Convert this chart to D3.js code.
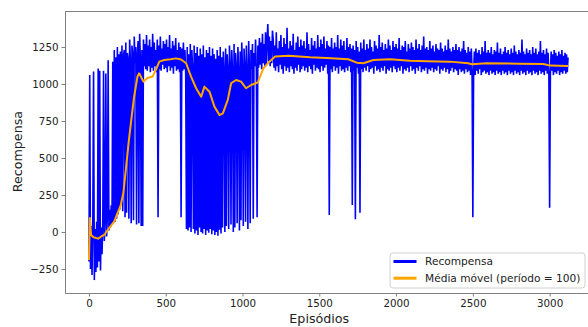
<!DOCTYPE html>
<html>
<head>
<meta charset="utf-8">
<script src="https://cdn.jsdelivr.net/npm/d3@7"></script>
<style>
  body { margin: 0; background: #fff; }
  text { font-family: "DejaVu Sans", sans-serif; fill: #222; }
</style>
</head>
<body>
<div id="chart"></div>
<script>
// recompensa, um valor a cada 5 episodios
const passo = 5;

// episodios 0 - 595
const recompensaInicio = [
  -200, 1060, -250, 40, -290, 60, 1085, -325, 20, -270, 70, -240, 1105, -200, 1090, -260, 30, -150, 50, 1090,
  -60, 90, 1070, -30, 110, 1160, 10, 150, 30, 180, 50, 1150, 60, 1230, 70, 1180, 90, 1250, 120, 1200,
  150, 1220, 190, 1260, 140, 1190, 1230, 100, 1280, 130, 1210, 1170, 90, 1300, 1150, 60, 1260, 1200, 80, 1320,
  1140, 1250, 50, 1190, 1290, 60, 1340, 1160, 40, 1230, 40, 1300, 1120, 1270, 1100, 1330, 1090, 1260, 1120, 1300,
  1080, 1250, 1110, 1340, 1090, 1280, 1120, 1230, 1080, 1300, 100, 1260, 1100, 1320, 1090, 1240, 1130, 1290, 1100, 1270,
  1110, 1300, 1080, 1250, 1120, 1330, 1090, 1240, 1110, 1290, 1070, 1260, 1120, 1310, 1090, 1230, 1100, 1280, 1080, 1250
];

// episodios 600 - 1195
const recompensaQuedas = [
  100, 1240, 1090, 1280, 1100, 1230, 1070, 20, 1250, 10, 1200, 30, 1270, 0, 1230, 1100, 20, 1260, -10, 1210,
  10, 1250, -20, 1190, 30, 1240, 0, 1200, -10, 1260, 20, 1180, -20, 1230, 10, 1210, -5, 1250, 20, 1190,
  -15, 1240, 10, 1200, -20, 1170, 0, 1230, -25, 1190, 15, 1250, -10, 1180, 30, 1220, 1090, 0, 1240, 40,
  1200, 1100, 20, 1260, 1120, 50, 1230, 1090, 0, 1270, 30, 1210, 1110, 60, 1250, 1080, 10, 1220, 80, 1280,
  1100, 40, 1240, 1120, 70, 1260, 1090, 20, 1290, 1110, 60, 1230, 1100, 1270, 90, 1210, 1120, 1300, 1090, 100,
  1260, 1110, 1310, 1130, 1280, 1100, 1340, 1140, 1270, 1120, 1350, 1130, 1300, 1405, 1150, 1320, 1120, 1290, 1140, 1360
];

// episodios 1200 - 3120
const recompensaEstavel = [
  1300, 1110, 1260, 1090, 1350, 1120, 1240, 1080, 1290, 1130, 1330, 1100, 1250, 1070, 1310, 1120, 1270, 1090, 1380, 1110,
  1240, 1080, 1290, 1120, 1260, 1100, 1340, 1070, 1230, 1110, 1280, 1090, 1320, 1130, 1250, 1080, 1300, 1100, 1260, 1120,
  1290, 1090, 1240, 1110, 1350, 1080, 1270, 1120, 1230, 1100, 1310, 1070, 1260, 1130, 1290, 1090, 1240, 1110, 1330, 1100,
  1250, 1080, 1300, 1120, 1270, 1090, 1320, 1110, 1240, 1130, 1290, 1070, 1260, 115, 1250, 1100, 1310, 1080, 1240, 1120,
  1280, 1090, 1250, 1110, 1330, 1070, 1240, 1120, 1300, 1090, 1260, 1100, 1290, 1080, 1230, 1110, 1310, 1090, 1250, 1120,
  1270, 1080, 1240, 182, 1260, 1090, 1230, 86, 1290, 1110, 1250, 1070, 1220, 130, 1280, 1100, 1240, 1080, 1300, 1110,
  1230, 1090, 1270, 1120, 1240, 1080, 1300, 1100, 1250, 1110, 1220, 1070, 1290, 1120, 1260, 1090, 1240, 1100, 1330, 1080,
  1250, 1110, 1280, 1090, 1230, 1120, 1270, 1070, 1240, 1100, 1300, 1090, 1260, 1110, 1230, 1080, 1290, 1120, 1250, 1100,
  1270, 1080, 1240, 1110, 1310, 1090, 1230, 1120, 1260, 1070, 1250, 1100, 1290, 1090, 1220, 1110, 1270, 1080, 1240, 1120,
  1280, 1090, 1250, 1100, 1230, 1070, 1300, 1110, 1240, 1090, 1270, 1120, 1230, 1080, 1260, 1100, 1320, 1090, 1240, 1110,
  1250, 1070, 1230, 1100, 1290, 1090, 1240, 1110, 1260, 1080, 1220, 1100, 1270, 1090, 1240, 1120, 1230, 1070, 1280, 1100,
  1240, 1090, 1220, 1110, 1260, 1080, 1230, 1100, 1300, 1070, 1240, 1090, 1220, 1110, 1250, 1080, 1230, 1100, 1270, 1090,
  1230, 1060, 1250, 1100, 1220, 1080, 1240, 1090, 1290, 1070, 1230, 1100, 1210, 1080, 1250, 1090, 1220, 1060, 1240, 1100,
  99, 1080, 1220, 1060, 1240, 1090, 1210, 1070, 1230, 1100, 1200, 1060, 1250, 1080, 1220, 1090, 1290, 1070, 1210, 1080,
  1230, 1060, 1210, 1090, 1250, 1070, 1200, 1080, 1230, 1060, 1220, 1090, 1280, 1070, 1210, 1080, 1240, 1060, 1200, 1090,
  1220, 1070, 1250, 1080, 1210, 1060, 1230, 1090, 1200, 1070, 1240, 1080, 1210, 1060, 1260, 1090, 1220, 1070, 1200, 1080,
  1230, 1060, 1210, 1090, 1300, 1070, 1220, 1080, 1200, 1060, 1240, 1090, 1210, 1070, 1230, 1080, 1200, 1060, 1250, 1090,
  1210, 1070, 1240, 1080, 1200, 1060, 1220, 1090, 1290, 1070, 1210, 1080, 1230, 1060, 1200, 1090, 1240, 1070, 1210, 1080,
  164, 1070, 1220, 1090, 1200, 1060, 1230, 1080, 1210, 1070, 1190, 1090, 1220, 1060, 1200, 1080, 1230, 1070, 1190, 1090,
  1210, 1070, 1200, 1080, 1180
];

// media movel (periodo = 100): pares [episodio, valor]
const mediaMovel = [
  [0, -190], [6, 95], [14, -20], [30, -35], [60, -45], [80, -30], [99, -20],
  [131, 27], [164, 70], [186, 128], [207, 182], [224, 263], [240, 419],
  [258, 601], [273, 736], [294, 914], [316, 1050], [327, 1072], [338, 1050],
  [355, 1016], [381, 1040], [414, 1050], [436, 1095], [458, 1151], [490, 1162],
  [533, 1167], [566, 1173], [600, 1165], [633, 1140], [665, 1050], [698, 971],
  [731, 914], [752, 982], [785, 948], [817, 847], [850, 790], [872, 802],
  [904, 892], [926, 1005], [958, 1027], [991, 1016], [1023, 971], [1056, 993],
  [1099, 1010], [1136, 1106], [1175, 1151], [1212, 1185], [1300, 1190],
  [1440, 1180], [1549, 1176], [1689, 1167], [1744, 1144], [1787, 1140],
  [1852, 1162], [1961, 1167], [2091, 1157], [2200, 1154], [2352, 1151],
  [2470, 1140], [2493, 1133], [2590, 1140], [2800, 1137], [2959, 1135],
  [3003, 1124], [3120, 1122]
];

const xTicks = [0, 500, 1000, 1500, 2000, 2500, 3000];
const yTicks = [-250, 0, 250, 500, 750, 1000, 1250];
const legenda = ['Recompensa', 'Média móvel (período = 100)'];
const cores = ['#0000ff', '#ffa500'];

const width = 588, height = 327;
const margin = {top: 11, right: -4, bottom: 34, left: 65};

const svg = d3.select('#chart').append('svg')
  .attr('width', width)
  .attr('height', height);

const x = d3.scaleLinear().domain([-156, 3276]).range([margin.left, width - margin.right]);
const y = d3.scaleLinear().domain([-412, 1493]).range([height - margin.bottom, margin.top]);

const serie = [
  ...recompensaInicio.map((v, i) => [i * passo, v]),
  ...recompensaQuedas.map((v, i) => [600 + i * passo, v]),
  ...recompensaEstavel.map((v, i) => [1200 + i * passo, v])
];

const line = d3.line().x(d => x(d[0])).y(d => y(d[1]));

svg.append('path')
  .datum(serie)
  .attr('fill', 'none')
  .attr('stroke', cores[0])
  .attr('stroke-width', 1.6)
  .attr('d', line);

svg.append('path')
  .datum(mediaMovel)
  .attr('fill', 'none')
  .attr('stroke', cores[1])
  .attr('stroke-width', 2)
  .attr('stroke-linejoin', 'round')
  .attr('d', line);

// eixos
const xAxis = svg.append('g')
  .attr('transform', `translate(0, ${height - margin.bottom})`)
  .call(d3.axisBottom(x).tickValues(xTicks).tickSize(3.5).tickSizeOuter(0)
    .tickPadding(3).tickFormat(d => String(d)));
const yAxis = svg.append('g')
  .attr('transform', `translate(${margin.left}, 0)`)
  .call(d3.axisLeft(y).tickValues(yTicks).tickSize(3.5).tickSizeOuter(0).tickPadding(3)
    .tickFormat(d => d < 0 ? '\u2212' + Math.abs(d) : String(d)));

[xAxis, yAxis].forEach(a => {
  a.selectAll('path').attr('stroke', '#808080').attr('stroke-width', 1);
  a.selectAll('line').attr('stroke', '#808080');
  a.selectAll('text').style('font-size', '10.3px').attr('fill', '#222')
    .style('font-family', '"DejaVu Sans", sans-serif');
});

// borda superior
svg.append('line')
  .attr('x1', margin.left).attr('x2', width)
  .attr('y1', margin.top + 0.5).attr('y2', margin.top + 0.5)
  .attr('stroke', '#808080');

svg.append('text')
  .attr('x', x(1500))
  .attr('y', 323)
  .attr('text-anchor', 'middle')
  .style('font-size', '12.7px')
  .text('Episódios');

svg.append('text')
  .attr('transform', `translate(21.5, ${y(543)}) rotate(-90)`)
  .attr('text-anchor', 'middle')
  .style('font-size', '12.7px')
  .text('Recompensa');

// legenda
const leg = svg.append('g').attr('transform', 'translate(390, 253)');
leg.append('rect')
  .attr('width', 195).attr('height', 35)
  .attr('rx', 3)
  .attr('fill', 'rgba(255,255,255,0.8)')
  .attr('stroke', '#d0d0d0');
legenda.forEach((t, i) => {
  const yy = 8.5 + i * 16.7;
  leg.append('line')
    .attr('x1', 3.5).attr('x2', 26.5)
    .attr('y1', yy).attr('y2', yy)
    .attr('stroke', cores[i])
    .attr('stroke-width', 3);
  leg.append('text')
    .attr('x', 35).attr('y', yy + 3.8)
    .style('font-size', '10.6px')
    .text(t);
});
</script>
</body>
</html>
